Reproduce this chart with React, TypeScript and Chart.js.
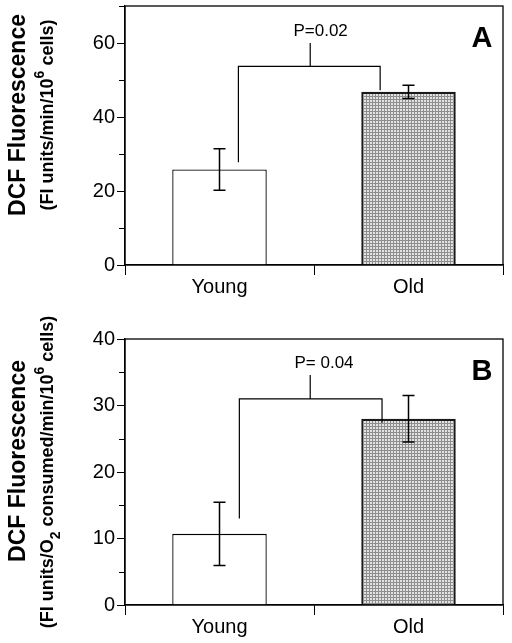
import React, { useEffect, useRef } from "react";
import { Chart, registerables } from "chart.js";
Chart.register(...registerables);

// ---------- data ----------
const categories = ["Young", "Old"];

const valuesA = [25.8, 46.8];
const errorsA = [5.6, 1.8];
const yMaxA = 70;
const yStepA = 10;
const yLabelledA = [0, 20, 40, 60];
const pTextA = "P=0.02";
const letterA = "A";
// bracket: [leftX, rightX, tickX] in category index units; [leftBottom, rightBottom, barY, tickTop] in values
const bracketXA = [0.1, 0.85, 0.48];
const bracketYA = [27.8, 47.2, 53.7, 60];
const pPosA = [0.535, 61.8];
const titleA = "DCF Fluorescence";
const subtitleA = [
  { t: "(FI units/min/10" },
  { t: "6", sup: true },
  { t: " cells)" },
];

const valuesB = [10.7, 28.0];
const errorsB = [4.75, 3.5];
const yMaxB = 40;
const yStepB = 5;
const yLabelledB = [0, 10, 20, 30, 40];
const pTextB = "P= 0.04";
const letterB = "B";
const bracketXB = [0.105, 0.86, 0.48];
const bracketYB = [13.0, 27.4, 31.0, 34.6];
const pPosB = [0.553, 35.6];
const titleB = "DCF Fluorescence";
const subtitleB = [
  { t: "(FI units/O" },
  { t: "2", sub: true },
  { t: " consumed/min/10" },
  { t: "6", sup: true },
  { t: " cells)" },
];

const FONT = "'Liberation Sans', Arial, Helvetica, sans-serif";

type Seg = { t: string; sup?: boolean; sub?: boolean };

function makePattern(): CanvasPattern | string {
  const c = document.createElement("canvas");
  c.width = 3;
  c.height = 3;
  const g = c.getContext("2d");
  if (!g) return "#b9b9b9";
  g.fillStyle = "#e2e2e2";
  g.fillRect(0, 0, 3, 3);
  g.fillStyle = "#8e8e8e";
  g.fillRect(0, 0, 3, 1);
  g.fillRect(0, 0, 1, 3);
  const p = g.createPattern(c, "repeat");
  return p || "#b9b9b9";
}

function drawRich(
  ctx: CanvasRenderingContext2D,
  segs: Seg[],
  baseX: number,
  centerY: number,
  size: number
) {
  ctx.save();
  ctx.translate(baseX, centerY);
  ctx.rotate(-Math.PI / 2);
  ctx.fillStyle = "#000";
  ctx.textBaseline = "alphabetic";
  ctx.textAlign = "left";
  const fontFor = (s: Seg) =>
    `bold ${s.sup || s.sub ? Math.round(size * 0.8) : size}px ${FONT}`;
  let total = 0;
  const widths = segs.map((s) => {
    ctx.font = fontFor(s);
    const w = ctx.measureText(s.t).width;
    total += w;
    return w;
  });
  let x = -total / 2;
  segs.forEach((s, i) => {
    ctx.font = fontFor(s);
    const dy = s.sup ? -size * 0.5 : s.sub ? size * 0.38 : 0;
    ctx.fillText(s.t, x, dy);
    x += widths[i];
  });
  ctx.restore();
}

type Panel = {
  values: number[];
  errors: number[];
  yMax: number;
  yStep: number;
  labelled: number[];
  pText: string;
  letter: string;
  bracketX: number[];
  bracketY: number[];
  pPos: number[];
  title: string;
  subtitle: Seg[];
  height: number;
  top: number;
  xAxisH: number;
  titleCY: number;
  subCY: number;
};

const panels: Panel[] = [
  {
    values: valuesA,
    errors: errorsA,
    yMax: yMaxA,
    yStep: yStepA,
    labelled: yLabelledA,
    pText: pTextA,
    letter: letterA,
    bracketX: bracketXA,
    bracketY: bracketYA,
    pPos: pPosA,
    title: titleA,
    subtitle: subtitleA,
    height: 300,
    top: 6,
    xAxisH: 35,
    titleCY: 115,
    subCY: 115,
  },
  {
    values: valuesB,
    errors: errorsB,
    yMax: yMaxB,
    yStep: yStepB,
    labelled: yLabelledB,
    pText: pTextB,
    letter: letterB,
    bracketX: bracketXB,
    bracketY: bracketYB,
    pPos: pPosB,
    title: titleB,
    subtitle: subtitleB,
    height: 343,
    top: 39,
    xAxisH: 38,
    titleCY: 161,
    subCY: 172,
  },
];

function PanelChart({ p }: { p: Panel }) {
  const ref = useRef<HTMLCanvasElement | null>(null);
  useEffect(() => {
    const canvas = ref.current;
    if (!canvas) return;
    const pattern = makePattern();

    const decor = {
      id: "decor",
      afterDatasetsDraw(chart: any) {
        const ctx: CanvasRenderingContext2D = chart.ctx;
        const xs = chart.scales.x;
        const ys = chart.scales.y;
        const area = chart.chartArea;
        const meta = chart.getDatasetMeta(0);
        ctx.save();
        // frame
        ctx.strokeStyle = "#000";
        ctx.lineWidth = 1.3;
        ctx.strokeRect(area.left, area.top, area.right - area.left, area.bottom - area.top);
        // minor y ticks
        ctx.lineWidth = 1;
        for (let v = 0; v <= p.yMax + 1e-9; v += p.yStep) {
          if (p.labelled.includes(v)) continue;
          const y = Math.round(ys.getPixelForValue(v)) + 0.5;
          ctx.beginPath();
          ctx.moveTo(area.left - 6, y);
          ctx.lineTo(area.left, y);
          ctx.stroke();
        }
        // error bars
        ctx.lineWidth = 1.5;
        meta.data.forEach((bar: any, i: number) => {
          const x = bar.x;
          const yHi = ys.getPixelForValue(p.values[i] + p.errors[i]);
          const yLo = ys.getPixelForValue(p.values[i] - p.errors[i]);
          ctx.beginPath();
          ctx.moveTo(x, yHi);
          ctx.lineTo(x, yLo);
          ctx.moveTo(x - 6, yHi);
          ctx.lineTo(x + 6, yHi);
          ctx.moveTo(x - 6, yLo);
          ctx.lineTo(x + 6, yLo);
          ctx.stroke();
        });
        // bracket
        const xPix = (v: number) => {
          const a = xs.getPixelForValue(0);
          const b = xs.getPixelForValue(1);
          return a + (b - a) * v;
        };
        const lx = xPix(p.bracketX[0]);
        const rx = xPix(p.bracketX[1]);
        const tx = xPix(p.bracketX[2]);
        const by = ys.getPixelForValue(p.bracketY[2]);
        ctx.lineWidth = 1.2;
        ctx.beginPath();
        ctx.moveTo(lx, ys.getPixelForValue(p.bracketY[0]));
        ctx.lineTo(lx, by);
        ctx.lineTo(rx, by);
        ctx.lineTo(rx, ys.getPixelForValue(p.bracketY[1]));
        ctx.moveTo(tx, by);
        ctx.lineTo(tx, ys.getPixelForValue(p.bracketY[3]));
        ctx.stroke();
        // P text
        ctx.fillStyle = "#000";
        ctx.font = `17px ${FONT}`;
        ctx.textAlign = "center";
        ctx.textBaseline = "alphabetic";
        ctx.fillText(p.pText, xPix(p.pPos[0]), ys.getPixelForValue(p.pPos[1]));
        // panel letter
        ctx.font = `bold 29px ${FONT}`;
        ctx.fillText(p.letter, area.right - 21, area.top + 41);
        ctx.restore();
        // y titles
        ctx.save();
        ctx.fillStyle = "#000";
        ctx.font = `bold 23px ${FONT}`;
        ctx.translate(25, p.titleCY);
        ctx.rotate(-Math.PI / 2);
        ctx.textAlign = "center";
        ctx.textBaseline = "alphabetic";
        ctx.fillText(p.title, 0, 0);
        ctx.restore();
        drawRich(ctx, p.subtitle, 53, p.subCY, 18);
      },
    };

    const chart = new Chart(canvas, {
      type: "bar",
      data: {
        labels: categories,
        datasets: [
          {
            data: p.values,
            backgroundColor: ["#ffffff", pattern as any],
            borderColor: ["#000000", "#1a1a1a"],
            borderWidth: [1.3, 2.2] as any,
            barPercentage: 0.5,
            categoryPercentage: 1.0,
            borderSkipped: "bottom",
          },
        ],
      },
      options: {
        animation: false,
        responsive: false,
        devicePixelRatio: 1,
        layout: { padding: { left: 0, right: 9, top: p.top, bottom: 0 } },
        plugins: {
          legend: { display: false },
          tooltip: { enabled: false },
          title: { display: false },
        },
        scales: {
          x: {
            type: "category",
            offset: true,
            grid: {
              offset: true,
              drawOnChartArea: false,
              drawTicks: true,
              tickLength: 10,
              color: "#000",
              lineWidth: 1,
            },
            border: { display: true, color: "#000", width: 1.3 },
            ticks: {
              color: "#000",
              font: { family: FONT, size: 20 },
              padding: 0,
              maxRotation: 0,
            },
            afterFit(scale: any) {
              scale.height = p.xAxisH;
              scale.paddingLeft = 0;
              scale.paddingRight = 0;
            },
          },
          y: {
            type: "linear",
            min: 0,
            max: p.yMax,
            grid: {
              drawOnChartArea: false,
              drawTicks: true,
              tickLength: 8,
              color: (c: any) =>
                p.labelled.includes(c.tick?.value) ? "#000" : "rgba(0,0,0,0)",
              lineWidth: 1,
            },
            border: { display: true, color: "#000", width: 1.3 },
            ticks: {
              stepSize: p.yStep,
              color: "#000",
              font: { family: FONT, size: 20 },
              padding: 2,
              callback: (v: any) => (p.labelled.includes(Number(v)) ? String(v) : ""),
            },
            afterFit(scale: any) {
              scale.width = 125;
              scale.paddingTop = 0;
              scale.paddingBottom = 0;
            },
          },
        },
      },
      plugins: [decor],
    } as any);
    return () => chart.destroy();
  }, [p]);
  return (
    <canvas
      ref={ref}
      width={512}
      height={p.height}
      style={{ display: "block", width: 512, height: p.height }}
    />
  );
}

export default function App() {
  return (
    <div
      style={{
        position: "absolute",
        left: 0,
        top: 0,
        width: 512,
        height: 643,
        background: "#fff",
      }}
    >
      {panels.map((p, i) => (
        <PanelChart key={i} p={p} />
      ))}
    </div>
  );
}
